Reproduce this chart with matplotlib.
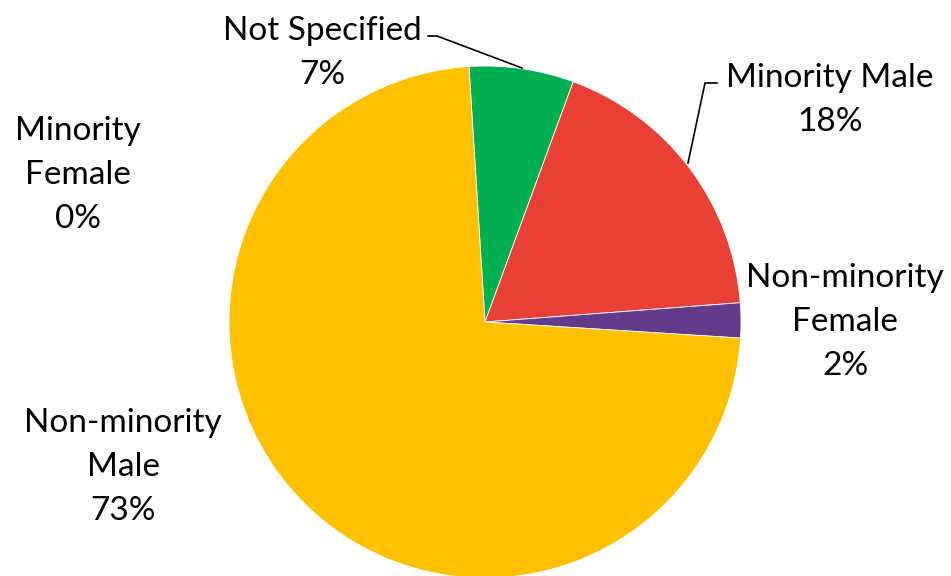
import matplotlib.pyplot as plt

categories = ["Minority Female", "Not Specified", "Minority Male",
              "Non-minority Female", "Non-minority Male"]
shares = [0.0, 6.6, 18.2, 2.2, 73.0]
colors = ["#4472C4", "#00B050", "#E84034", "#643B8A", "#FFC000"]
label_texts = ["Minority\nFemale", "Not Specified", "Minority Male",
               "Non-minority\nFemale", "Non-minority\nMale"]

plt.rcParams['font.family'] = ['Lato', 'DejaVu Sans']

fig = plt.figure(figsize=(9.51, 5.76), dpi=100)
ax = fig.add_axes([0, 0, 1, 1])

# centre (485, 322) in picture pixels, y measured from bottom here
cx, cy, r = 485, 576 - 322, 256
ax.pie(shares, colors=colors, startangle=93.6, counterclock=False,
       center=(cx, cy), radius=r, frame=True,
       wedgeprops=dict(edgecolor='white', linewidth=0.6))
ax.set_xlim(0, 951)
ax.set_ylim(0, 576)
ax.set_aspect('equal')
ax.axis('off')

total = sum(shares)
# label anchor spots (centre of the text block), picture pixel coords
spots = [(78, 175), (322, 53), (830, 100), (845, 322), (123, 467)]
for name, val, (x, y) in zip(label_texts, shares, spots):
    ax.text(x, 576 - y, f"{name}\n{round(val / total * 100):.0f}%",
            ha='center', va='center', fontsize=24, linespacing=1.58,
            color='black')

# leader lines
ax.plot([428, 437, 522], [576 - 36, 576 - 36, 576 - 68], color='black', lw=1.2)
ax.plot([717, 705, 688], [576 - 83, 576 - 83, 576 - 163], color='black', lw=1.2)

fig.savefig('out.png', dpi=100)
